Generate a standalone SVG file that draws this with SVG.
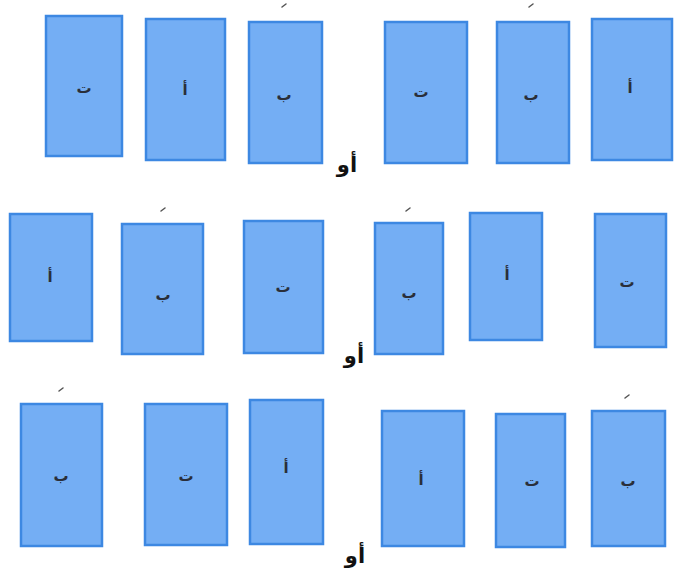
<svg xmlns="http://www.w3.org/2000/svg" width="677" height="576" viewBox="0 0 677 576">
<defs>
<style>
.card{fill:#74aef4;stroke:#3d88e2;stroke-width:2.5}
.ltr{font-family:"DejaVu Sans",sans-serif;font-size:15px;font-weight:bold;fill:#2a2f3a;text-anchor:middle;dominant-baseline:central}
.or{font-family:"DejaVu Sans",sans-serif;font-size:21px;font-weight:bold;fill:#111;text-anchor:middle}
.tick{stroke:#555;stroke-width:1.5;stroke-linecap:round}
</style>
</defs>
<rect width="677" height="576" fill="#fff"/>
<g id="r1c1"><rect class="card" x="46" y="16" width="76" height="140"/><text class="ltr" x="84" y="88">ت</text></g>
<g id="r1c2"><rect class="card" x="146" y="19" width="79" height="141"/><text class="ltr" x="185" y="90">أ</text></g>
<g id="r1c3"><rect class="card" x="249" y="22" width="73" height="141"/><text class="ltr" x="284" y="95">ب</text><line class="tick" x1="282" y1="7" x2="286" y2="4"/></g>
<g id="r1c4"><rect class="card" x="385" y="22" width="82" height="141"/><text class="ltr" x="421" y="92">ت</text></g>
<g id="r1c5"><rect class="card" x="497" y="22" width="72" height="141"/><text class="ltr" x="531" y="95">ب</text><line class="tick" x1="529" y1="7" x2="533" y2="4"/></g>
<g id="r1c6"><rect class="card" x="592" y="19" width="80" height="141"/><text class="ltr" x="630" y="88">أ</text></g>
<g id="or1"><text class="or" x="347" y="172">أو</text></g>
<g id="r2c1"><rect class="card" x="10" y="214" width="82" height="127"/><text class="ltr" x="50" y="277">أ</text></g>
<g id="r2c2"><rect class="card" x="122" y="224" width="81" height="130"/><text class="ltr" x="163" y="295">ب</text><line class="tick" x1="161" y1="211" x2="165" y2="208"/></g>
<g id="r2c3"><rect class="card" x="244" y="221" width="79" height="132"/><text class="ltr" x="283" y="287">ت</text></g>
<g id="r2c4"><rect class="card" x="375" y="223" width="68" height="131"/><text class="ltr" x="409" y="293">ب</text><line class="tick" x1="406" y1="211" x2="410" y2="208"/></g>
<g id="r2c5"><rect class="card" x="470" y="213" width="72" height="127"/><text class="ltr" x="507" y="275">أ</text></g>
<g id="r2c6"><rect class="card" x="595" y="214" width="71" height="133"/><text class="ltr" x="627" y="282">ت</text></g>
<g id="or2"><text class="or" x="354" y="363">أو</text></g>
<g id="r3c1"><rect class="card" x="21" y="404" width="81" height="142"/><text class="ltr" x="61" y="476">ب</text><line class="tick" x1="59" y1="391" x2="63" y2="388"/></g>
<g id="r3c2"><rect class="card" x="145" y="404" width="82" height="141"/><text class="ltr" x="186" y="476">ت</text></g>
<g id="r3c3"><rect class="card" x="250" y="400" width="73" height="144"/><text class="ltr" x="286" y="468">أ</text></g>
<g id="r3c4"><rect class="card" x="382" y="411" width="82" height="135"/><text class="ltr" x="421" y="480">أ</text></g>
<g id="r3c5"><rect class="card" x="496" y="414" width="69" height="133"/><text class="ltr" x="532" y="481">ت</text></g>
<g id="r3c6"><rect class="card" x="592" y="411" width="73" height="135"/><text class="ltr" x="628" y="481">ب</text><line class="tick" x1="625" y1="398" x2="629" y2="395"/></g>
<g id="or3"><text class="or" x="355" y="563">أو</text></g>
<g id="connectors"></g>
</svg>
